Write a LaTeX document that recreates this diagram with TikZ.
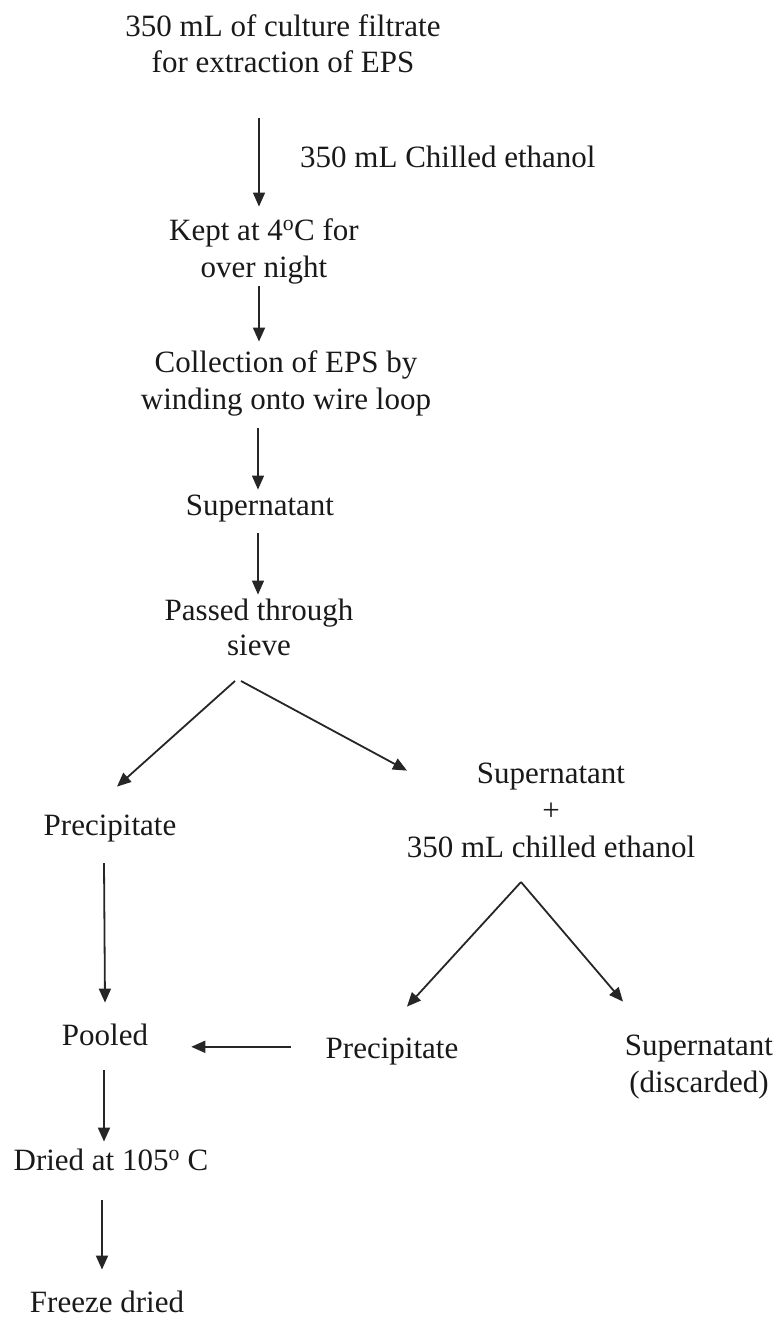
\documentclass[tikz,border=0pt]{standalone}
\usepackage{fontspec}
\setmainfont{Liberation Serif}
\usetikzlibrary{arrows.meta}
\newcommand{\flowtext}[1]{\begin{tabular}[t]{@{}c@{}}#1\end{tabular}}
\begin{document}
\begin{tikzpicture}[x=1pt,y=-1pt,
  lbl/.style={font=\fontsize{31}{36}\selectfont, text=black!90, inner sep=0pt, anchor=base},
  arr/.style={draw=black!85, line width=1.8pt, -{Triangle[length=14pt,width=12pt]}},
  thinarr/.style={arr, line width=1.2pt}]
\useasboundingbox (0,0) rectangle (781,1319);

% nodes (anchor = baseline of first line)
\node[lbl] (title) at (283,37) {\flowtext{350 mL of culture filtrate\\for extraction of EPS}};
\node[lbl, anchor=base west] (eth1) at (300,167) {350 mL Chilled ethanol};
\node[lbl] (kept) at (264,240) {\flowtext{Kept at 4\textsuperscript{o}C for\\[1pt]over night}};
\node[lbl] (coll) at (286,372) {\flowtext{Collection of EPS by\\[1pt]winding onto wire loop}};
\node[lbl] (sup1) at (260,515) {\flowtext{Supernatant}};
\node[lbl] (pass) at (259,620) {\flowtext{Passed through\\[-1pt]sieve}};
\node[lbl] (prec1) at (110,835) {\flowtext{Precipitate}};
\node[lbl] (sup2) at (551,783) {\flowtext{Supernatant\\[1pt]+\\[1pt]350 mL chilled ethanol}};
\node[lbl] (pooled) at (105,1045) {\flowtext{Pooled}};
\node[lbl] (prec2) at (392,1058) {\flowtext{Precipitate}};
\node[lbl] (disc) at (699,1055) {\flowtext{Supernatant\\[1pt](discarded)}};
\node[lbl] (dried) at (111,1170) {\flowtext{Dried at 105\textsuperscript{o} C}};
\node[lbl, text depth=0pt] (freeze) at (107,1312) {\flowtext{Freeze dried}};

% connectors
\draw[arr, line width=1.5pt] ([xshift=-24pt,yshift=-34pt]title.south) -- ([xshift=-5pt,yshift=8pt]kept.north);
\draw[arr] ([xshift=-5pt,yshift=2pt]kept.south) -- ([xshift=-27pt,yshift=5pt]coll.north);
\draw[thinarr] ([xshift=-28pt,yshift=-8pt]coll.south) -- ([xshift=-2pt]sup1.north);
\draw[thinarr] ([xshift=-2pt,yshift=-7pt]sup1.south) -- ([xshift=-1pt]pass.north);
\draw[arr] ([xshift=-24pt,yshift=-15pt]pass.south) -- ([xshift=7pt,yshift=23pt]prec1.north);
\draw[arr] ([xshift=-18pt,yshift=-15pt]pass.south) -- ([xshift=-144pt,yshift=-13pt]sup2.north);
\draw[arr] ([xshift=-6pt,yshift=-17pt]prec1.south) -- ([yshift=17pt]pooled.north);
\draw[arr] ([xshift=-30pt,yshift=-14pt]sup2.south) -- ([xshift=15pt,yshift=26pt]prec2.north);
\draw[arr] ([xshift=-30pt,yshift=-14pt]sup2.south) -- ([xshift=-76pt,yshift=28pt]disc.north);
\draw[arr] ([xshift=-35pt,yshift=4pt]prec2.west) -- ([xshift=43pt,yshift=-9pt]pooled.east);
\draw[arr] ([xshift=-1pt,yshift=-14pt]pooled.south) -- ([xshift=-7pt,yshift=3pt]dried.north);
\draw[arr] ([xshift=-9pt,yshift=-19pt]dried.south) -- ([xshift=-5pt,yshift=17pt]freeze.north);
\end{tikzpicture}
\end{document}
